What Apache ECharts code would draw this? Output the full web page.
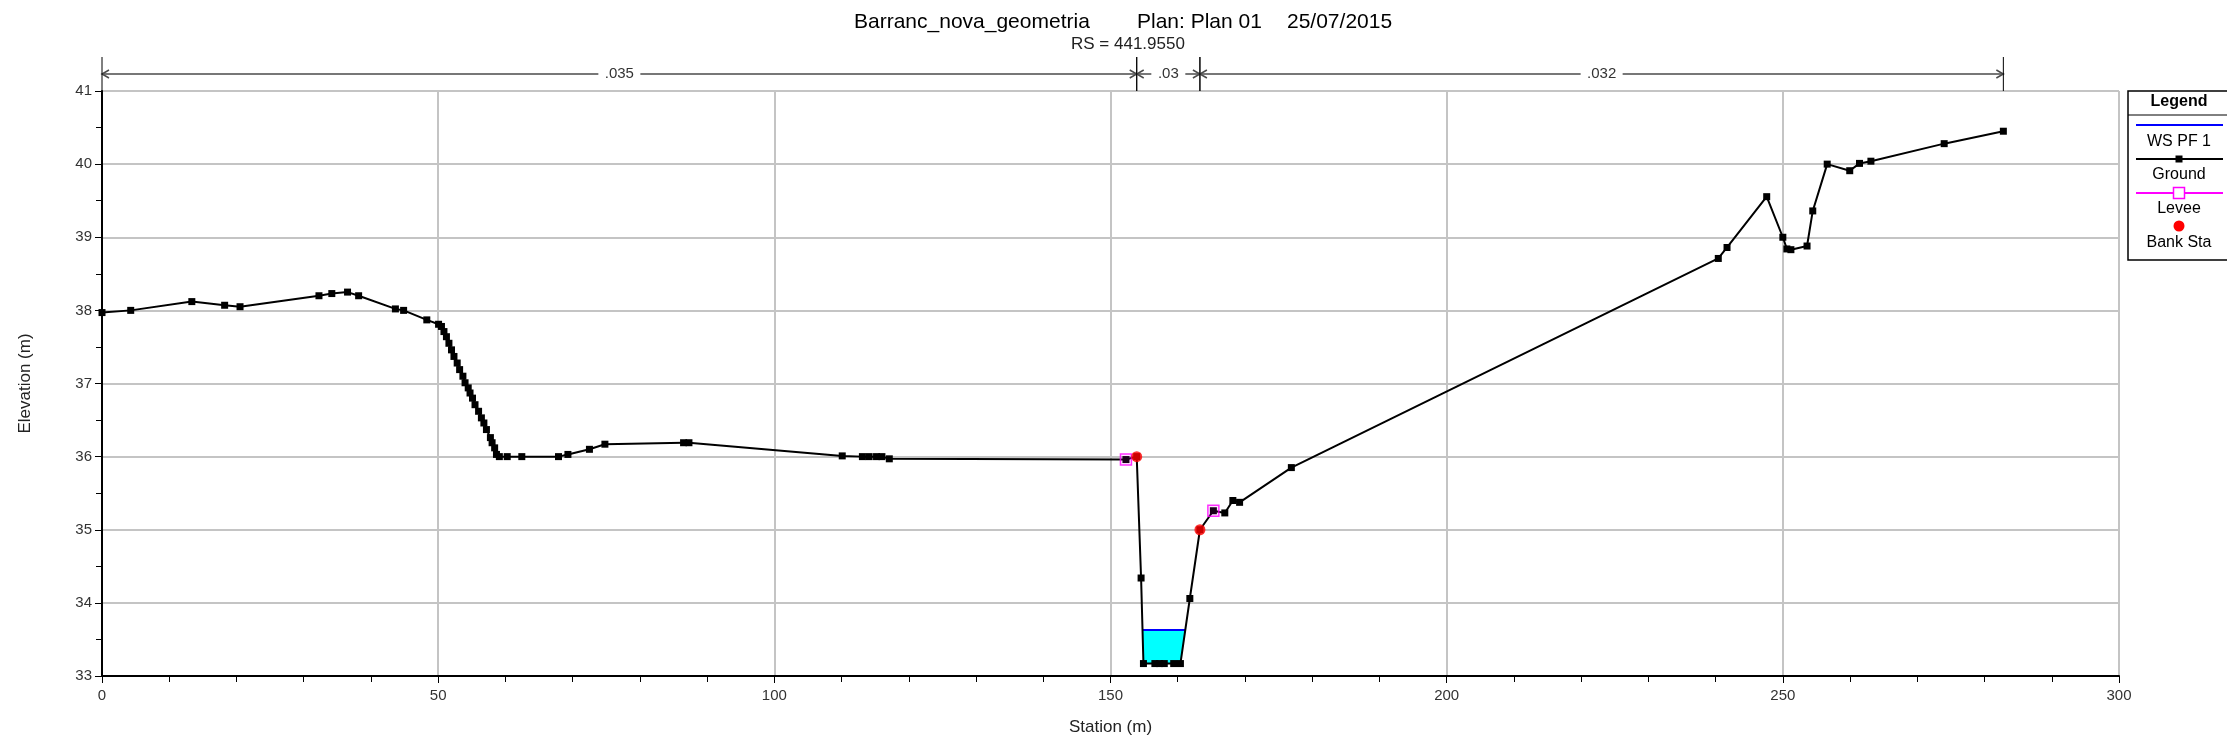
<!DOCTYPE html>
<html>
<head>
<meta charset="utf-8">
<title>Barranc_nova_geometria - RS 441.9550</title>
<script src="https://cdn.jsdelivr.net/npm/echarts@6/dist/echarts.min.js"></script>
<style>
  html, body { margin: 0; padding: 0; background: #ffffff; overflow: hidden; }
  #chart { width: 2227px; height: 744px; }
</style>
</head>
<body>
<div id="chart"></div>
<script>
// Cross-section RS = 441.9550 — ground survey points (station m, elevation m)
const groundStation = [
  0, 4.27, 13.36, 18.24, 20.53, 32.27, 34.18, 36.52, 38.17, 43.64, 44.86, 48.31,
  50.06, 50.49, 50.86, 51.23, 51.60, 51.98, 52.35, 52.83, 53.19, 53.68, 54.00,
  54.47, 54.74, 55.11, 55.48, 56.01, 56.43, 56.80, 57.18, 57.77, 58.02, 58.40,
  58.67, 59.10, 60.27, 62.44, 67.90, 69.3, 72.5, 74.8, 86.5, 87.3, 110.1, 113.1,
  114.1, 115.2, 116.0, 117.1, 152.3, 153.9, 154.55, 154.9, 156.6, 157.3, 158.0,
  159.4, 160.4, 161.8, 163.3, 165.3, 167.0, 168.2, 169.2, 176.9, 240.4, 241.7,
  247.6, 250.0, 250.6, 251.2, 253.6, 254.45, 256.6, 259.95, 261.4, 263.1, 274.0, 282.8
];
const groundElev = [
  37.97, 38.00, 38.12, 38.07, 38.05, 38.20, 38.23, 38.25, 38.20, 38.02, 38.00, 37.87,
  37.81, 37.78, 37.71, 37.64, 37.55, 37.46, 37.37, 37.28, 37.19, 37.10, 37.01,
  36.94, 36.87, 36.80, 36.71, 36.62, 36.53, 36.46, 36.37, 36.26, 36.19, 36.12,
  36.03, 36.00, 36.00, 36.00, 36.00, 36.03, 36.10, 36.17, 36.19, 36.19, 36.01, 36.00,
  36.00, 36.00, 36.00, 35.97, 35.96, 36.00, 34.34, 33.17, 33.17, 33.17, 33.17,
  33.17, 33.17, 34.06, 35.00, 35.26, 35.23, 35.40, 35.375, 35.85, 38.71, 38.86,
  39.555, 39.00, 38.84, 38.83, 38.88, 39.36, 40.00, 39.91, 40.01, 40.04, 40.28, 40.45
];

// Levee points and bank stations
const leveeStation = [152.3, 165.3];
const leveeElev = [35.96, 35.26];
const bankStation = [153.9, 163.3];
const bankElev = [36.00, 35.00];

// Water surface elevation for profile PF 1
const wsElev = 33.63;

// Manning's n regions: boundaries (station) and values
const nBounds = [0, 153.9, 163.3, 282.8];
const nValues = ['.035', '.03', '.032'];

// Axis ranges and tick steps
const xRange = [0, 300], xStep = 50;
const yRange = [33, 41], yStep = 1;

const FONT = '"Liberation Sans", Arial, sans-serif';

const ground = groundStation.map((s, i) => [s, groundElev[i]]);
const levee = leveeStation.map((s, i) => [s, leveeElev[i]]);
const banks = bankStation.map((s, i) => [s, bankElev[i]]);

// Water polygon: walk out from the lowest ground point to where the ground meets the WS
function waterPolygon() {
  let iMin = 0;
  ground.forEach((p, i) => { if (p[1] < ground[iMin][1]) iMin = i; });
  const cross = (a, b) => {
    const t = (wsElev - a[1]) / (b[1] - a[1]);
    return [a[0] + t * (b[0] - a[0]), wsElev];
  };
  let l = iMin; while (l > 0 && ground[l - 1][1] < wsElev) l--;
  let r = iMin; while (r < ground.length - 1 && ground[r + 1][1] < wsElev) r++;
  const left = cross(ground[l - 1], ground[l]);
  const right = cross(ground[r], ground[r + 1]);
  return [left].concat(ground.slice(l, r + 1), [right]);
}
const water = waterPolygon();
const wsLine = [water[0], water[water.length - 1]];

const chart = echarts.init(document.getElementById('chart'), null, { renderer: 'canvas' });

const legendX = 2128, legendY = 91, legendW = 100, legendH = 169;
const legCx = 2179;

const option = {
  animation: false,
  backgroundColor: '#ffffff',
  title: [
    { text: 'Barranc_nova_geometria', left: 849, top: 7,
      textStyle: { fontFamily: FONT, fontSize: 21, fontWeight: 'normal', color: '#000' } },
    { text: 'Plan: Plan 01', left: 1132, top: 7,
      textStyle: { fontFamily: FONT, fontSize: 21, fontWeight: 'normal', color: '#000' } },
    { text: '25/07/2015', left: 1282, top: 7,
      textStyle: { fontFamily: FONT, fontSize: 21, fontWeight: 'normal', color: '#000' } },
    { text: 'RS = 441.9550', left: 1066, top: 31,
      textStyle: { fontFamily: FONT, fontSize: 17, fontWeight: 'normal', color: '#222' } }
  ],
  grid: { left: 102, top: 91, width: 2017, height: 585, containLabel: false },
  xAxis: {
    type: 'value', min: xRange[0], max: xRange[1], interval: xStep,
    name: 'Station (m)', nameLocation: 'middle', nameGap: 43,
    nameTextStyle: { fontFamily: FONT, fontSize: 17, color: '#222' },
    axisLine: { show: true, onZero: false, lineStyle: { color: '#000', width: 2 } },
    axisTick: { show: true, length: 7, lineStyle: { color: '#000', width: 1 } },
    minorTick: { show: true, splitNumber: 5, length: 6, lineStyle: { color: '#000', width: 1 } },
    axisLabel: { fontFamily: FONT, fontSize: 15, color: '#333', margin: 12 },
    splitLine: { show: true, lineStyle: { color: '#c4c4c4', width: 2 } }
  },
  yAxis: {
    type: 'value', min: yRange[0], max: yRange[1], interval: yStep,
    name: 'Elevation (m)', nameLocation: 'middle', nameGap: 68, nameRotate: 90,
    nameTextStyle: { fontFamily: FONT, fontSize: 17, color: '#222' },
    axisLine: { show: true, onZero: false, lineStyle: { color: '#000', width: 2 } },
    axisTick: { show: true, length: 7, lineStyle: { color: '#000', width: 1 } },
    minorTick: { show: true, splitNumber: 2, length: 6, lineStyle: { color: '#000', width: 1 } },
    axisLabel: { fontFamily: FONT, fontSize: 15, color: '#333', margin: 10 },
    splitLine: { show: true, lineStyle: { color: '#c4c4c4', width: 2 } }
  },
  series: [
    {
      // water body below the WS line
      name: 'WS fill', type: 'custom', z: 1, clip: false,
      encode: { x: 0, y: 1 },
      data: [wsLine[0]],
      renderItem: (params, api) => ({
        type: 'polygon',
        shape: { points: water.map(p => api.coord(p)) },
        style: { fill: '#00ffff', stroke: null }
      })
    },
    {
      name: 'WS PF 1', type: 'line', z: 2, data: wsLine,
      symbol: 'none', lineStyle: { color: '#0000ff', width: 2 }
    },
    {
      name: 'Ground', type: 'line', z: 3, data: ground,
      symbol: 'rect', symbolSize: 7, showAllSymbol: true,
      itemStyle: { color: '#000' },
      lineStyle: { color: '#000', width: 2 }
    },
    {
      name: 'Levee', type: 'scatter', z: 4, data: levee,
      symbol: 'rect', symbolSize: 11,
      itemStyle: { color: 'rgba(255,0,255,0.12)', borderColor: '#ff00ff', borderWidth: 1.5 }
    },
    {
      name: 'Bank Sta', type: 'scatter', z: 5, data: banks,
      symbol: 'circle', symbolSize: 11,
      itemStyle: { color: '#ff0000' }
    },
    {
      // Manning's n regions drawn above the plot area
      name: 'n values', type: 'custom', z: 6, clip: false,
      encode: { x: [0, 1], y: 2 },
      data: nValues.map((v, i) => [nBounds[i], nBounds[i + 1], yRange[1]]),
      renderItem: (params, api) => {
        const p0 = api.coord([api.value(0), api.value(2)]);
        const p1 = api.coord([api.value(1), api.value(2)]);
        const x0 = p0[0], x1 = p1[0], top = p0[1];
        const y = top - 17;
        const label = nValues[params.dataIndex];
        const cx = (x0 + x1) / 2;
        const lw = label.length * 8 + 10;
        const stroke = { stroke: '#4a4a4a', lineWidth: 1.5, fill: null };
        return {
          type: 'group',
          children: [
            { type: 'line', shape: { x1: x0, y1: y, x2: x1, y2: y }, style: stroke },
            { type: 'polyline', shape: { points: [[x0 + 7, y - 4], [x0, y], [x0 + 7, y + 4]] }, style: stroke },
            { type: 'polyline', shape: { points: [[x1 - 7, y - 4], [x1, y], [x1 - 7, y + 4]] }, style: stroke },
            { type: 'line', shape: { x1: x0, y1: top - 34, x2: x0, y2: top }, style: { stroke: '#000', lineWidth: 1 } },
            { type: 'line', shape: { x1: x1, y1: top - 34, x2: x1, y2: top }, style: { stroke: '#000', lineWidth: 1 } },
            { type: 'rect', shape: { x: cx - lw / 2, y: y - 8, width: lw, height: 16 }, style: { fill: '#fff' } },
            { type: 'text', x: cx, y: y,
              style: { text: label, textAlign: 'center', textVerticalAlign: 'middle',
                       font: '15px ' + FONT, fill: '#333' } }
          ]
        };
      }
    }
  ],
  graphic: [
    { type: 'rect', shape: { x: legendX, y: legendY, width: legendW, height: legendH },
      style: { fill: '#fff', stroke: '#000', lineWidth: 1.5 } },
    { type: 'text', x: legCx, y: legendY + 11,
      style: { text: 'Legend', font: 'bold 16px ' + FONT, fill: '#000', textAlign: 'center', textVerticalAlign: 'middle' } },
    { type: 'line', shape: { x1: legendX, y1: legendY + 24, x2: legendX + legendW, y2: legendY + 24 },
      style: { stroke: '#000', lineWidth: 1 } },
    { type: 'line', shape: { x1: 2136, y1: 125, x2: 2223, y2: 125 },
      style: { stroke: '#0000ff', lineWidth: 2 } },
    { type: 'text', x: legCx, y: 142,
      style: { text: 'WS PF 1', font: '16px ' + FONT, fill: '#000', textAlign: 'center', textVerticalAlign: 'middle' } },
    { type: 'line', shape: { x1: 2136, y1: 159, x2: 2223, y2: 159 },
      style: { stroke: '#000', lineWidth: 2 } },
    { type: 'rect', shape: { x: legCx - 3.5, y: 155.5, width: 7, height: 7 }, style: { fill: '#000' } },
    { type: 'text', x: legCx, y: 175,
      style: { text: 'Ground', font: '16px ' + FONT, fill: '#000', textAlign: 'center', textVerticalAlign: 'middle' } },
    { type: 'line', shape: { x1: 2136, y1: 193, x2: 2223, y2: 193 },
      style: { stroke: '#ff00ff', lineWidth: 2 } },
    { type: 'rect', shape: { x: legCx - 5.5, y: 187.5, width: 11, height: 11 },
      style: { fill: '#fff', stroke: '#ff00ff', lineWidth: 1.5 } },
    { type: 'text', x: legCx, y: 209,
      style: { text: 'Levee', font: '16px ' + FONT, fill: '#000', textAlign: 'center', textVerticalAlign: 'middle' } },
    { type: 'circle', shape: { cx: legCx, cy: 226, r: 5.5 }, style: { fill: '#ff0000' } },
    { type: 'text', x: legCx, y: 243,
      style: { text: 'Bank Sta', font: '16px ' + FONT, fill: '#000', textAlign: 'center', textVerticalAlign: 'middle' } }
  ]
};

chart.setOption(option);
</script>
</body>
</html>
